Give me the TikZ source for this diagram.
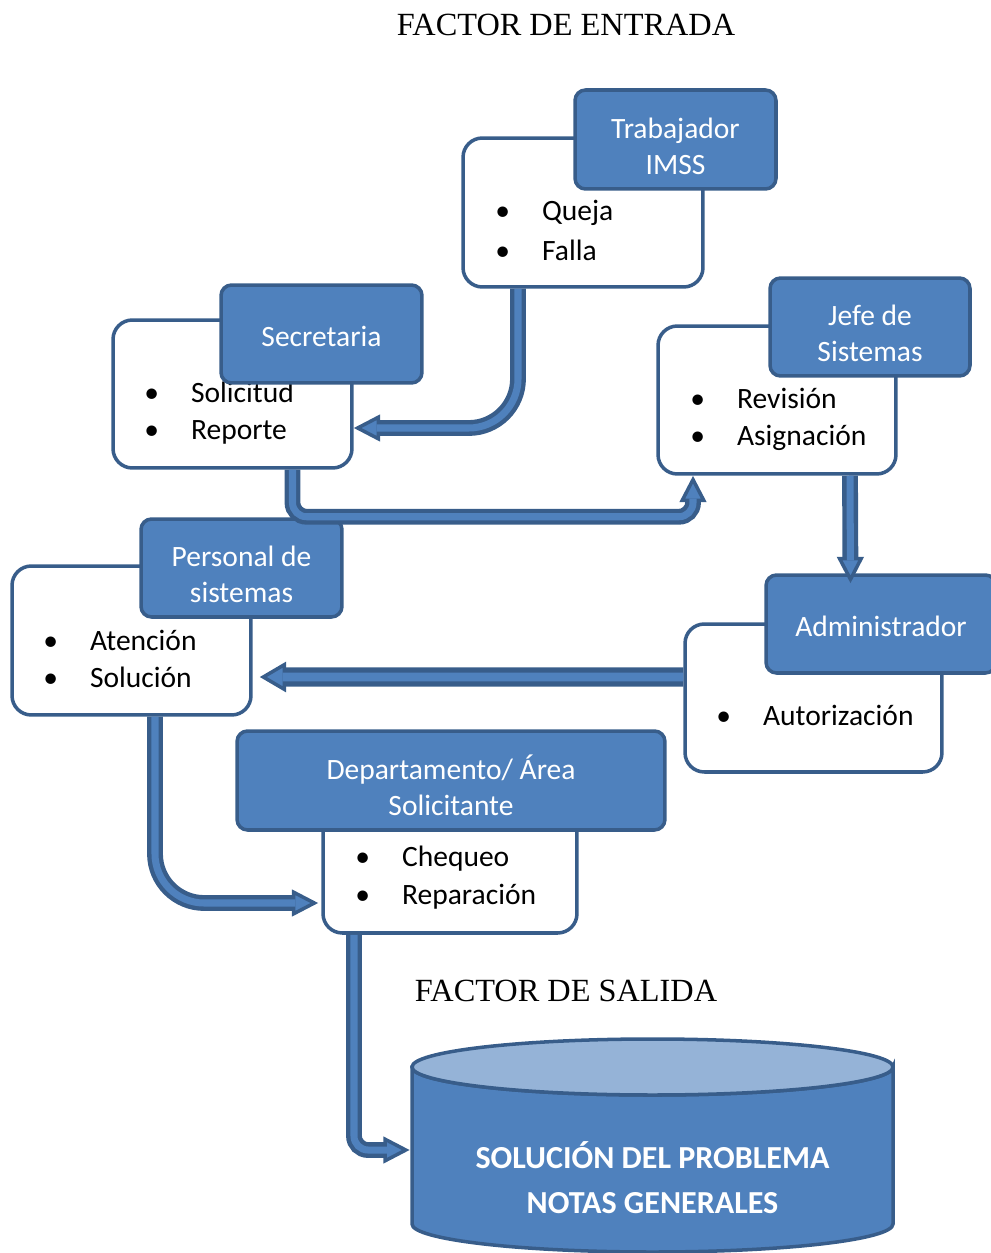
\documentclass[tikz,border=0pt]{standalone}
\usepackage{fontspec}
\setmainfont{Carlito}
\newfontfamily\romana{Liberation Serif}
\usetikzlibrary{arrows.meta,calc}
\definecolor{azul}{HTML}{4F81BD}
\definecolor{borde}{HTML}{385D8A}
\definecolor{celeste}{HTML}{95B3D7}
\newcommand{\itm}[1]{\makebox[26.6pt][l]{\textbullet}#1}
\tikzset{
  cuerpo/.style={draw=borde, line width=2pt, fill=white, rounded corners=11pt},
  cabeza/.style={draw=borde, line width=2pt, fill=azul, rounded corners=6pt, text=white, align=center, text height=14.8pt, font=\fontsize{16.8}{20.4}\selectfont},
  doble/.style={text height=39.5pt},
  lista/.style={anchor=west, align=left, inner sep=0pt, font=\fontsize{16.8}{21}\selectfont},
  titulo/.style={font=\romana\fontsize{18.4}{22}\selectfont},
  flecha/.style={draw=borde, line width=9pt, -{Triangle[length=15pt,width=15pt,line width=2pt,fill=azul]}, postaction={draw=azul, line width=4pt, -, shorten >=13pt}},
  flechagruesa/.style={draw=borde, line width=11pt, -{Triangle[length=15pt,width=17pt,line width=2pt,fill=azul]}, postaction={draw=azul, line width=5pt, -, shorten >=13pt}}
}
\begin{document}
\begin{tikzpicture}[x=0.02cm,y=-0.02cm]
\useasboundingbox (0,0) rectangle (990,1253);
\node[titulo] (entrada) at (566,25) {FACTOR DE ENTRADA};
\node[titulo] (salida) at (566,991) {FACTOR DE SALIDA};
% Trabajador IMSS
\node[cuerpo, minimum width=4.8cm, minimum height=2.98cm] (trab) at (583,212.5) {};
\node[lista, font=\fontsize{16.8}{23.2}\selectfont] (trabl) at (495,230.5) {\itm{Queja}\\\itm{Falla}};
\node[cabeza, doble, minimum width=4.02cm, minimum height=1.98cm] (trabh) at (675.5,139.5) {Trabajador\\IMSS};
% Secretaria
\node[cuerpo, minimum width=4.78cm, minimum height=2.96cm] (secr) at (232.5,394) {};
\node[lista] (secrl) at (144,413.5) {\itm{Solicitud}\\\itm{Reporte}};
\node[cabeza, minimum width=4.02cm, minimum height=1.96cm] (secrh) at (321.5,334) {Secretaria};
% Jefe de Sistemas
\node[cuerpo, minimum width=4.76cm, minimum height=2.96cm] (jefe) at (777,400) {};
\node[lista] (jefel) at (690,419.5) {\itm{Revisión}\\\itm{Asignación}};
\node[cabeza, doble, minimum width=4cm, minimum height=1.96cm] (jefeh) at (870,327) {Jefe de\\Sistemas};
% Personal de sistemas
\node[cuerpo, minimum width=4.78cm, minimum height=2.98cm] (pers) at (131.5,640.5) {};
\node[lista] (persl) at (43,658.5) {\itm{Atención}\\\itm{Solución}};
\node[cabeza, doble, minimum width=4.02cm, minimum height=1.96cm] (persh) at (241.5,568) {Personal de\\sistemas};
% Administrador
\node[cuerpo, minimum width=5.14cm, minimum height=2.96cm] (admin) at (813.5,698) {};
\node[lista] (adminl) at (716,715) {\itm{Autorización}};
\node[cabeza, minimum width=4.6cm, minimum height=1.96cm] (admh) at (881,624) {Administrador};
% Departamento
\node[cuerpo, minimum width=5.08cm, minimum height=3.06cm] (dept) at (450,856.5) {};
\node[lista, font=\fontsize{16.8}{22}\selectfont] (deptl) at (355,877.5) {\itm{Chequeo}\\\itm{Reparación}};
\node[cabeza, doble, minimum width=8.56cm, minimum height=1.98cm] (depth) at (451,780.5) {Departamento/ Área\\Solicitante};
% Solucion
\draw[draw=borde, line width=2pt, fill=azul] (412,1067) -- (412,1224) arc[start angle=180, end angle=0, x radius=240.5, y radius=28] -- (893,1067) arc[start angle=0, end angle=180, x radius=240.5, y radius=28] -- cycle;
\draw[draw=borde, line width=2pt, fill=celeste] (652.5,1067) ellipse [x radius=240.5, y radius=28];
\node[text=white, align=center, minimum width=9.62cm, font=\bfseries\fontsize{18.25}{25.5}\selectfont] (sol) at (652.5,1178) {SOLUCIÓN DEL PROBLEMA\\NOTAS GENERALES};
% flechas
\draw[flecha, rounded corners=28pt] ($(trab.south)+(-65,0)$) |- ($(secr.east)+(0,34)$);
\draw[flecha, rounded corners=8pt] ($(secr.south)+(60,0)$) -- ++(0,47) -| ($(jefe.south)+(-84,0)$);
\draw[flecha] ($(jefe.south)+(73,0)$) -- ($(admh.north)+(-30.5,10)$);
\draw[flechagruesa] ($(admin.west)+(0,-21)$) -- ($(pers.east)+(7,36.5)$);
\draw[flecha, rounded corners=28pt] ($(pers.south)+(23.5,0)$) |- ($(dept.west)+(-3,46.5)$);
\draw[flecha, rounded corners=8pt] ($(dept.south)+(-96,0)$) |- ($(sol.west)+(-2,-28)$);
\end{tikzpicture}
\end{document}
